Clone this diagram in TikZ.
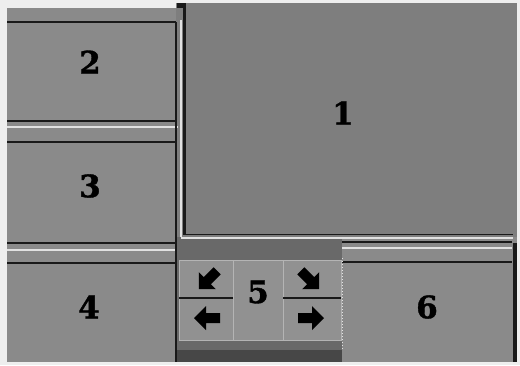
\documentclass[tikz,border=0pt]{standalone}
\usepackage{fontspec}
\setmainfont{DejaVu Serif}
\newfontfamily\digitfont{DejaVu Serif}[UprightFont=* Bold, FakeBold=1.2]
\definecolor{bg}{RGB}{238,238,238}
\definecolor{paneA}{RGB}{138,138,138}
\definecolor{paneB}{RGB}{126,126,126}
\definecolor{paneC}{RGB}{145,145,145}
\definecolor{strip}{RGB}{105,105,105}
\definecolor{darkline}{RGB}{25,25,25}
\definecolor{lightline}{RGB}{225,225,225}
\tikzset{
  numlabel/.style={font=\fontsize{31}{31}\digitfont, text=black, inner sep=0pt},
  dk/.style={draw=darkline, line width=2pt},
  lt/.style={draw=lightline, line width=2pt}
}
\newcommand{\arrowicon}[3]{%
  \begin{scope}[shift={(#1,#2)}, rotate=#3]
    \fill[black] (-13pt,-5pt) -- (1pt,-5pt) -- (1pt,-12pt) -- (13pt,0pt) -- (1pt,12pt) -- (1pt,5pt) -- (-13pt,5pt) -- cycle;
  \end{scope}}
\begin{document}
\begin{tikzpicture}[x=1pt, y=-1pt]
\useasboundingbox (0,0) rectangle (520,365);
\fill[bg] (0,0) rectangle (520,365);
% left column
\fill[paneA] (7,8) rectangle (176,362);
% panel 1
\fill[paneB] (176,3) rectangle (517,237);
% panel 6
\fill[paneA] (342,237) rectangle (517,362);
% panel 5
\fill[strip] (176,237) rectangle (342,362);
\fill[paneC] (179,260) rectangle (341,340);
\fill[darkline!80] (176,350) rectangle (342,362);
% left column borders
\draw[dk] (7,22) -- (176,22);
\draw[dk] (7,121) -- (176,121);
\draw[lt] (7,127) -- (178,127);
\draw[dk] (7,142) -- (176,142);
\draw[dk] (7,243) -- (176,243);
\draw[lt] (7,250) -- (176,250);
\draw[dk] (7,263) -- (176,263);
% vertical divider
\draw[draw=darkline, line width=1.2pt] (176,22) -- (176,243);
\draw[lt] (181,20) -- (181,237);
\draw[draw=darkline, line width=3pt] (184.5,3) -- (184.5,235);
\fill[darkline] (177,3) rectangle (186,8);
\draw[draw=darkline, line width=1.5pt] (176,243) -- (176,362);
% panel 1 bottom
\draw[draw=darkline, line width=1.5pt] (184,234.5) -- (513,234.5);
\draw[lt] (181,238) -- (513,238);
% panel 6 borders
\draw[dk] (342,242) -- (512,242);
\draw[lt] (342,248) -- (512,248);
\draw[dk] (342,262) -- (512,262);
\draw[draw=darkline, line width=4pt] (514.5,243) -- (514.5,362);
\draw[draw=lightline, line width=1pt, dotted] (342,258) -- (342,350);
% panel 5 inner grid
\draw[draw=lightline!80!black, line width=1pt] (179,260) rectangle (341,340);
\draw[draw=lightline!80!black, line width=1pt] (233,260) -- (233,340);
\draw[draw=lightline!80!black, line width=1pt] (283,260) -- (283,340);
\draw[draw=darkline, line width=1.2pt] (179,298) -- (233,298);
\draw[draw=darkline, line width=1.2pt] (283,298) -- (341,298);
% arrow icons
\arrowicon{208}{280}{-135}
\arrowicon{310}{280}{-45}
\arrowicon{207}{318}{180}
\arrowicon{311}{318}{0}
% labels
\node[numlabel] (n1) at (343,113) {1};
\node[numlabel] (n2) at (90,62) {2};
\node[numlabel] (n3) at (90,186) {3};
\node[numlabel] (n4) at (89,307) {4};
\node[numlabel] (n5) at (258,292) {5};
\node[numlabel] (n6) at (427,307) {6};
\end{tikzpicture}
\end{document}
